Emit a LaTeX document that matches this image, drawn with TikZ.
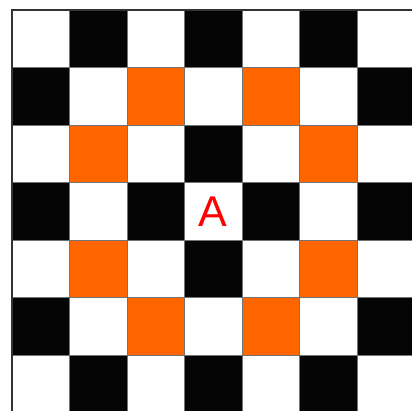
\documentclass[tikz,border=0pt]{standalone}
\usepackage{fontspec}
\setmainfont{Liberation Sans}
\definecolor{knight}{RGB}{255,102,0}

\begin{document}
\begin{tikzpicture}[x=1pt,y=-1pt,
  sq/.style={draw=black!55,line width=.8pt,minimum size=57.5pt,inner sep=0pt,
    outer sep=0pt,anchor=north west},
  dark/.style={sq,fill=black!98},
  light/.style={sq,fill=white},
  jump/.style={sq,fill=knight},
  piece/.style={text=red,font=\fontsize{43}{43}\selectfont}
]
\useasboundingbox (0,0) rectangle (412,411);
\clip (0,0) rectangle (412,411);
% board, row by row
\foreach \row [count=\r from 0] in {
  {light,dark,light,dark,light,dark,light},
  {dark,light,jump,light,jump,light,dark},
  {light,jump,light,dark,light,jump,light},
  {dark,light,dark,light,dark,light,dark},
  {light,jump,light,dark,light,jump,light},
  {dark,light,jump,light,jump,light,dark},
  {light,dark,light,dark,light,dark,light}}
  \foreach \kind [count=\c from 0] in \row
    \node[\kind] (sq-\r-\c) at (12+57.5*\c,10+57.5*\r) {};
\node[piece] (A) at (sq-3-3.center) {A};
% top and left edge only
\draw[line width=2pt,black!80] (sq-0-6.north east) -- (sq-0-0.north west) -- (sq-6-0.south west);
\end{tikzpicture}
\end{document}
